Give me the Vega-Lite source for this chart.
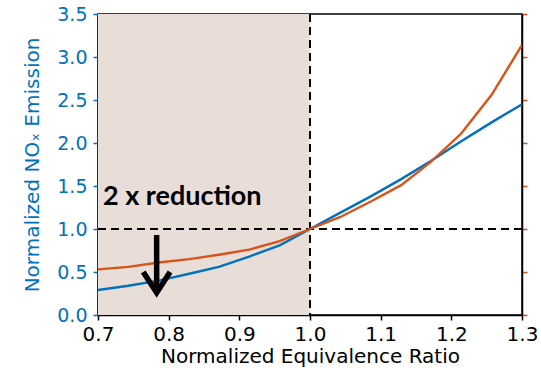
{
  "$schema": "https://vega.github.io/schema/vega-lite/v6.json",
  "width": 424,
  "height": 301,
  "autosize": "none",
  "padding": {"left": 98, "top": 14, "right": 15, "bottom": 53},
  "background": "white",
  "config": {
    "view": {"stroke": "black", "strokeWidth": 1.5},
    "axis": {
      "labelFont": "DejaVu Sans",
      "labelFontSize": 19,
      "titleFont": "DejaVu Sans",
      "titleFontSize": 20,
      "titleFontWeight": "normal",
      "grid": false,
      "domainColor": "black",
      "domainWidth": 1.5,
      "tickSize": 5,
      "tickWidth": 1.5,
      "labelFlush": false
    }
  },
  "datasets": {
    "curves": [
      {"phi": 0.700, "nox": 0.29, "series": "Case A"},
      {"phi": 0.743, "nox": 0.34, "series": "Case A"},
      {"phi": 0.786, "nox": 0.40, "series": "Case A"},
      {"phi": 0.829, "nox": 0.48, "series": "Case A"},
      {"phi": 0.871, "nox": 0.56, "series": "Case A"},
      {"phi": 0.914, "nox": 0.68, "series": "Case A"},
      {"phi": 0.957, "nox": 0.81, "series": "Case A"},
      {"phi": 1.000, "nox": 1.00, "series": "Case A"},
      {"phi": 1.043, "nox": 1.19, "series": "Case A"},
      {"phi": 1.086, "nox": 1.38, "series": "Case A"},
      {"phi": 1.129, "nox": 1.58, "series": "Case A"},
      {"phi": 1.171, "nox": 1.79, "series": "Case A"},
      {"phi": 1.214, "nox": 2.02, "series": "Case A"},
      {"phi": 1.257, "nox": 2.24, "series": "Case A"},
      {"phi": 1.300, "nox": 2.45, "series": "Case A"},
      {"phi": 0.700, "nox": 0.53, "series": "Case B"},
      {"phi": 0.743, "nox": 0.56, "series": "Case B"},
      {"phi": 0.786, "nox": 0.61, "series": "Case B"},
      {"phi": 0.829, "nox": 0.65, "series": "Case B"},
      {"phi": 0.871, "nox": 0.70, "series": "Case B"},
      {"phi": 0.914, "nox": 0.76, "series": "Case B"},
      {"phi": 0.957, "nox": 0.86, "series": "Case B"},
      {"phi": 1.000, "nox": 1.00, "series": "Case B"},
      {"phi": 1.043, "nox": 1.14, "series": "Case B"},
      {"phi": 1.086, "nox": 1.32, "series": "Case B"},
      {"phi": 1.129, "nox": 1.51, "series": "Case B"},
      {"phi": 1.171, "nox": 1.78, "series": "Case B"},
      {"phi": 1.214, "nox": 2.11, "series": "Case B"},
      {"phi": 1.257, "nox": 2.56, "series": "Case B"},
      {"phi": 1.300, "nox": 3.14, "series": "Case B"}
    ],
    "arrow": [
      {"phi": 0.783, "nox": 0.93, "part": "shaft", "k": 0},
      {"phi": 0.783, "nox": 0.30, "part": "shaft", "k": 1},
      {"phi": 0.764, "nox": 0.50, "part": "head", "k": 0},
      {"phi": 0.783, "nox": 0.26, "part": "head", "k": 1},
      {"phi": 0.802, "nox": 0.50, "part": "head", "k": 2}
    ]
  },
  "layer": [
    {
      "data": {"values": [{"phi": 0.7, "phi_end": 1.0}]},
      "mark": {"type": "rect", "color": "#e9ddd8"},
      "encoding": {
        "x": {"field": "phi", "type": "quantitative", "title": "Normalized Equivalence Ratio",
              "scale": {"domain": [0.7, 1.3], "nice": false, "zero": false}},
        "x2": {"field": "phi_end"}
      }
    },
    {
      "data": {"values": [{"phi": 1.0}]},
      "mark": {"type": "rule", "color": "black", "strokeWidth": 2, "strokeDash": [8, 5]},
      "encoding": {
        "x": {"field": "phi", "type": "quantitative", "title": "Normalized Equivalence Ratio",
              "scale": {"domain": [0.7, 1.3], "nice": false, "zero": false}}
      }
    },
    {
      "data": {"values": [{"nox": 1.0}]},
      "mark": {"type": "rule", "color": "black", "strokeWidth": 2, "strokeDash": [8, 5]},
      "encoding": {
        "y": {"field": "nox", "type": "quantitative",
              "scale": {"domain": [0, 3.5], "nice": false},
              "axis": {"orient": "right", "labels": false, "title": null,
                       "values": [0, 0.5, 1, 1.5, 2, 2.5, 3, 3.5],
                       "tickColor": "#d95319"}}
      }
    },
    {
      "data": {"name": "curves"},
      "mark": {"type": "line", "strokeWidth": 2.4, "clip": true},
      "encoding": {
        "x": {"field": "phi", "type": "quantitative", "title": "Normalized Equivalence Ratio",
              "scale": {"domain": [0.7, 1.3], "nice": false, "zero": false},
              "axis": {"values": [0.7, 0.8, 0.9, 1.0, 1.1, 1.2, 1.3], "format": ".1f",
                       "labelColor": "black", "tickColor": "black", "titleColor": "black",
                       "labelFontSize": 20, "titleFontSize": 20,
                       "labelPadding": 4, "titlePadding": 2}},
        "y": {"field": "nox", "type": "quantitative", "title": "Normalized NOₓ Emission",
              "scale": {"domain": [0, 3.5], "nice": false},
              "axis": {"orient": "left", "values": [0, 0.5, 1, 1.5, 2, 2.5, 3, 3.5], "format": ".1f",
                       "labelColor": "#0072bd", "tickColor": "#0072bd", "titleColor": "#0072bd",
                       "labelPadding": 6, "titlePadding": 14}},
        "color": {"field": "series", "type": "nominal",
                  "scale": {"domain": ["Case A", "Case B"], "range": ["#0072bd", "#d95319"]},
                  "legend": null}
      }
    },
    {
      "data": {"name": "arrow"},
      "mark": {"type": "line", "color": "black", "strokeWidth": 5.5, "strokeJoin": "miter", "strokeCap": "butt"},
      "encoding": {
        "x": {"field": "phi", "type": "quantitative", "title": "Normalized Equivalence Ratio",
              "scale": {"domain": [0.7, 1.3], "nice": false, "zero": false}},
        "y": {"field": "nox", "type": "quantitative", "axis": null,
              "scale": {"domain": [0, 3.5], "nice": false}},
        "detail": {"field": "part"},
        "order": {"field": "k"}
      }
    },
    {
      "data": {"values": [{"phi": 0.707, "nox": 1.28, "label": "2 x reduction"}]},
      "mark": {"type": "text", "font": "Lato", "fontWeight": "bold", "fontSize": 27,
               "align": "left", "baseline": "alphabetic", "color": "black"},
      "encoding": {
        "x": {"field": "phi", "type": "quantitative", "title": "Normalized Equivalence Ratio",
              "scale": {"domain": [0.7, 1.3], "nice": false, "zero": false}},
        "y": {"field": "nox", "type": "quantitative", "axis": null,
              "scale": {"domain": [0, 3.5], "nice": false}},
        "text": {"field": "label"}
      }
    }
  ],
  "resolve": {"axis": {"y": "independent"}}
}
